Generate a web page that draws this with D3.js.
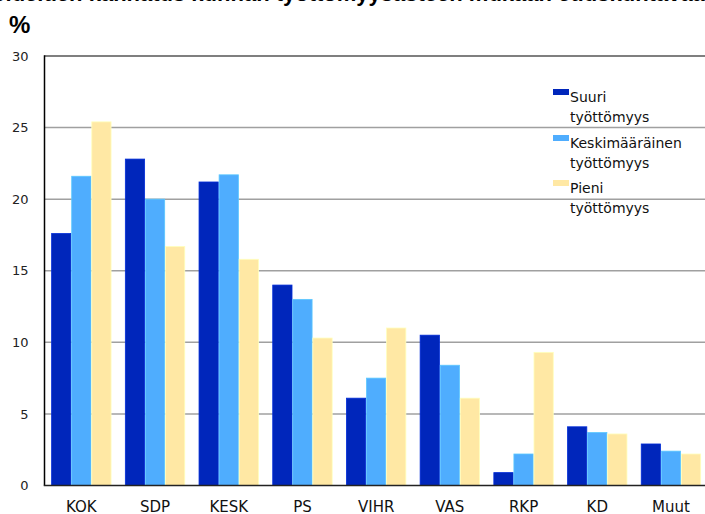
<!DOCTYPE html>
<html>
<head>
<meta charset="utf-8">
<script src="https://cdn.jsdelivr.net/npm/d3@7"></script>
<style>
  html, body { margin: 0; padding: 0; background: #fff; overflow: hidden; }
  svg { display: block; }
</style>
</head>
<body>
<svg id="chart" width="705" height="514"></svg>
<script>
// ---- data ----
const categories = ["KOK", "SDP", "KESK", "PS", "VIHR", "VAS", "RKP", "KD", "Muut"];
const seriesNames = ["Suuri työttömyys", "Keskimääräinen työttömyys", "Pieni työttömyys"];
const suuri = [17.6, 22.8, 21.2, 14.0, 6.1, 10.5, 0.9, 4.1, 2.9];
const keskimaarainen = [21.6, 20.0, 21.7, 13.0, 7.5, 8.4, 2.2, 3.7, 2.4];
const pieni = [25.4, 16.7, 15.8, 10.3, 11.0, 6.1, 9.3, 3.6, 2.2];
const yTicks = [0, 5, 10, 15, 20, 25, 30];
const colors = ["#0026bb", "#4fadfe", "#ffe8a4"];
const titleText = "Puolueiden kannatus kunnan työttömyysasteen mukaan eduskuntavaaleissa";

const seriesValues = [suuri, keskimaarainen, pieni];

const svg = d3.select("#chart");
const mLeft = 44.5, mRight = 707.8, mTop = 56, mBottom = 485.5;

const x0 = d3.scaleBand().domain(categories).range([mLeft, mRight])
  .paddingInner(0.172).paddingOuter(0.086);
const x1 = d3.scaleBand().domain(d3.range(seriesNames.length))
  .range([0, x0.bandwidth()]).padding(0.04);
const y = d3.scaleLinear().domain([0, 30]).range([mBottom, mTop]);

// title (mostly above the visible area, as in the reference)
svg.append("text")
  .attr("x", 365).attr("y", 1)
  .attr("text-anchor", "middle")
  .attr("font-family", "Liberation Sans, Arial, sans-serif")
  .attr("font-weight", "bold").attr("font-size", 22)
  .attr("fill", "#000")
  .text(titleText);

// "%" unit label
svg.append("text")
  .attr("x", 9).attr("y", 33)
  .attr("font-family", "Liberation Sans, Arial, sans-serif")
  .attr("font-weight", "bold").attr("font-size", 24)
  .attr("fill", "#000")
  .text("%");

// gridlines
svg.append("g")
  .selectAll("line")
  .data(yTicks.filter(d => d > 0 && d < 30))
  .join("line")
  .attr("x1", mLeft).attr("x2", 705)
  .attr("y1", d => y(d)).attr("y2", d => y(d))
  .attr("stroke", "#a0a0a0").attr("stroke-width", 1.5);

// top border
svg.append("line")
  .attr("x1", mLeft).attr("x2", 705)
  .attr("y1", y(30)).attr("y2", y(30))
  .attr("stroke", "#555").attr("stroke-width", 1.5);

// bars
const groups = svg.append("g")
  .selectAll("g")
  .data(categories)
  .join("g")
  .attr("transform", d => `translate(${x0(d)},0)`);

groups.selectAll("rect")
  .data((c, i) => seriesValues.map((vals, s) => ({ s, v: vals[i] })))
  .join("rect")
  .attr("x", d => x1(d.s))
  .attr("width", x1.bandwidth())
  .attr("y", d => y(d.v))
  .attr("height", d => y(0) - y(d.v))
  .attr("fill", d => colors[d.s])
  .attr("stroke", d => d3.color(colors[d.s]).brighter(0.4))
  .attr("stroke-width", 0.8);

// y axis
const yAxis = d3.axisLeft(y).tickValues(yTicks).tickSize(0).tickPadding(16);
const yg = svg.append("g").attr("transform", `translate(${mLeft},0)`).call(yAxis);
yg.select(".domain").remove();
yg.selectAll("text")
  .attr("font-family", "DejaVu Sans, Verdana, sans-serif")
  .attr("font-size", 13).attr("fill", "#222");

svg.append("line")
  .attr("x1", mLeft).attr("x2", mLeft)
  .attr("y1", mTop - 0.75).attr("y2", mBottom)
  .attr("stroke", "#000").attr("stroke-width", 1.5);

// x axis
const xAxis = d3.axisBottom(x0).tickSize(0).tickPadding(0);
const xg = svg.append("g").attr("transform", `translate(0,${mBottom})`).call(xAxis);
xg.select(".domain").remove();
xg.selectAll("text")
  .attr("dy", null)
  .attr("y", 26)
  .attr("font-family", "DejaVu Sans, Verdana, sans-serif")
  .attr("font-size", 15).attr("fill", "#111");

svg.append("line")
  .attr("x1", mLeft - 0.75).attr("x2", 705)
  .attr("y1", mBottom).attr("y2", mBottom)
  .attr("stroke", "#222").attr("stroke-width", 1.5);

// legend
const legend = svg.append("g").attr("font-family", "DejaVu Sans, Verdana, sans-serif")
  .attr("font-size", 14).attr("fill", "#111");
const legendBase = [102, 148, 193];
seriesNames.forEach((name, i) => {
  const parts = name.split(" ");
  legend.append("rect")
    .attr("x", 553).attr("y", legendBase[i] - 13)
    .attr("width", 16).attr("height", 6)
    .attr("fill", colors[i]);
  const t = legend.append("text").attr("x", 570).attr("y", legendBase[i]);
  t.append("tspan").attr("x", 570).text(parts[0]);
  t.append("tspan").attr("x", 570).attr("dy", 20).text(parts[1]);
});
</script>
</body>
</html>
